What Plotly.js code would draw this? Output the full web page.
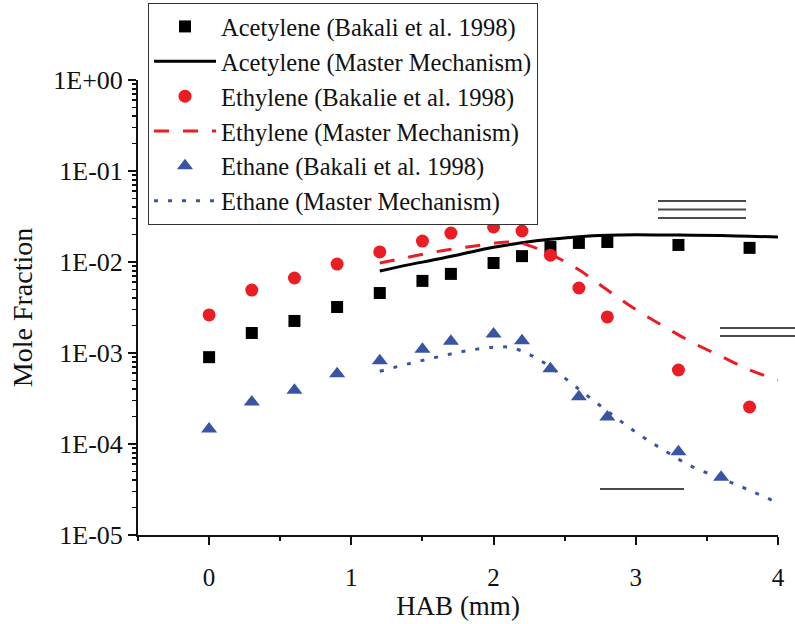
<!DOCTYPE html>
<html>
<head>
<meta charset="utf-8">
<script src="https://cdn.plot.ly/plotly-3.0.1.min.js"></script>
<style>html,body{margin:0;padding:0;background:#fff;}#chart{width:795px;height:624px;}</style>
</head>
<body>
<div id="chart"></div>
<script>
// Experimental data (Bakali et al. 1998)
const acetyleneExpX = [0, 0.3, 0.6, 0.9, 1.2, 1.5, 1.7, 2.0, 2.2, 2.4, 2.6, 2.8, 3.3, 3.8];
const acetyleneExpY = [9.0e-4, 1.66e-3, 2.25e-3, 3.2e-3, 4.56e-3, 6.2e-3, 7.4e-3, 9.75e-3, 1.16e-2, 1.46e-2, 1.62e-2, 1.66e-2, 1.54e-2, 1.43e-2];

const ethyleneExpX = [0, 0.3, 0.6, 0.9, 1.2, 1.5, 1.7, 2.0, 2.2, 2.4, 2.6, 2.8, 3.3, 3.8];
const ethyleneExpY = [2.62e-3, 4.92e-3, 6.67e-3, 9.5e-3, 1.29e-2, 1.70e-2, 2.08e-2, 2.43e-2, 2.19e-2, 1.19e-2, 5.18e-3, 2.49e-3, 6.5e-4, 2.55e-4];

const ethaneExpX = [0, 0.3, 0.6, 0.9, 1.2, 1.5, 1.7, 2.0, 2.2, 2.4, 2.6, 2.8, 3.3, 3.6];
const ethaneExpY = [1.46e-4, 2.9e-4, 3.9e-4, 5.9e-4, 8.2e-4, 1.1e-3, 1.35e-3, 1.62e-3, 1.36e-3, 6.7e-4, 3.3e-4, 1.98e-4, 8.2e-5, 4.3e-5];

// Master Mechanism model
const modelX = [1.2, 1.4, 1.6, 1.8, 2.0, 2.1, 2.2, 2.3, 2.4, 2.6, 2.8, 3.0, 3.2, 3.4, 3.6, 3.8, 4.0];
const acetyleneModelY = [7.96e-3, 9.3e-3, 1.07e-2, 1.25e-2, 1.45e-2, 1.54e-2, 1.63e-2, 1.71e-2, 1.78e-2, 1.9e-2, 1.97e-2, 1.99e-2, 1.98e-2, 1.97e-2, 1.95e-2, 1.92e-2, 1.88e-2];
const ethyleneModelY = [9.75e-3, 1.13e-2, 1.30e-2, 1.45e-2, 1.6e-2, 1.66e-2, 1.6e-2, 1.42e-2, 1.22e-2, 8.2e-3, 4.92e-3, 3.0e-3, 1.95e-3, 1.3e-3, 9.2e-4, 6.5e-4, 5.05e-4];
const ethaneModelY = [6.3e-4, 7.6e-4, 9.0e-4, 1.05e-3, 1.16e-3, 1.16e-3, 1.05e-3, 8.8e-4, 7.0e-4, 4.0e-4, 2.3e-4, 1.35e-4, 8.5e-5, 5.6e-5, 4.2e-5, 3.1e-5, 2.25e-5];

const yTickVals = [1e-5, 1e-4, 1e-3, 1e-2, 1e-1, 1];
const yTickText = ["1E-05", "1E-04", "1E-03", "1E-02", "1E-01", "1E+00"];
const xTickVals = [0, 1, 2, 3, 4];
const xMinorVals = [-0.5, 0.5, 1.5, 2.5, 3.5];

const minorY = [];
for (let e = -5; e < 0; e++) for (let m = 2; m <= 9; m++) minorY.push(m * Math.pow(10, e));

const SERIF = "Liberation Serif";
const INK = "#111";
const RED = "#ec1c24", BLUE = "#3a54a4";

const traces = [
  {x: acetyleneExpX, y: acetyleneExpY, mode: "markers", name: "Acetylene (Bakali et al. 1998)",
   marker: {symbol: "square", size: 12, color: "#000"}},
  {x: modelX, y: acetyleneModelY, mode: "lines", name: "Acetylene (Master Mechanism)",
   line: {color: "#000", width: 3, shape: "spline"}},
  {x: ethyleneExpX, y: ethyleneExpY, mode: "markers", name: "Ethylene (Bakalie et al. 1998)",
   marker: {symbol: "circle", size: 13, color: RED}},
  {x: modelX, y: ethyleneModelY, mode: "lines", name: "Ethylene (Master Mechanism)",
   line: {color: RED, width: 3, dash: "15px,14px", shape: "spline"}},
  {x: ethaneExpX, y: ethaneExpY, mode: "markers", name: "Ethane (Bakali et al. 1998)",
   marker: {symbol: "triangle-up", size: 14, color: BLUE}},
  {x: modelX, y: ethaneModelY, mode: "lines", name: "Ethane (Master Mechanism)",
   line: {color: BLUE, width: 3, dash: "4px,10px", shape: "spline"}},
  // empty carriers for the minor-tick overlay axes
  {x: [null], y: [null], xaxis: "x", yaxis: "y2", showlegend: false, hoverinfo: "skip"},
  {x: [null], y: [null], xaxis: "x2", yaxis: "y", showlegend: false, hoverinfo: "skip"}
];

const grayLine = (x0, x1, y) => ({type: "line", xref: "paper", yref: "paper",
  x0: (x0 - 138) / 640, x1: (x1 - 138) / 640, y0: (535 - y) / 455, y1: (535 - y) / 455,
  line: {color: "#4a4a4a", width: 2.2}});

const layout = {
  width: 795, height: 624,
  margin: {l: 138, r: 17, t: 80, b: 89, autoexpand: false},
  paper_bgcolor: "#fff", plot_bgcolor: "#fff",
  showlegend: true,
  font: {family: SERIF, color: INK},
  xaxis: {
    range: [-0.5, 4], tickmode: "array", tickvals: xTickVals, automargin: false,
    ticks: "outside", ticklen: 8, tickwidth: 2, tickcolor: INK, ticklabelstandoff: 11,
    showline: true, linecolor: INK, linewidth: 2, showgrid: false, zeroline: false,
    tickfont: {family: SERIF, size: 25, color: INK},
    title: {text: "HAB (mm)", font: {family: SERIF, size: 27, color: INK}, standoff: 3}
  },
  yaxis: {
    type: "log", range: [-5, 0], tickmode: "array", tickvals: yTickVals, ticktext: yTickText, automargin: false,
    ticks: "outside", ticklen: 8, tickwidth: 2, tickcolor: INK,
    showline: true, linecolor: INK, linewidth: 2, showgrid: false, zeroline: false,
    tickfont: {family: SERIF, size: 26, color: INK},
    title: {text: "Mole Fraction", font: {family: SERIF, size: 28, color: INK}, standoff: 12}
  },
  yaxis2: {overlaying: "y", anchor: "x", side: "left", type: "log", range: [-5, 0], automargin: false,
    tickmode: "array", tickvals: minorY, ticks: "outside", ticklen: 5, tickwidth: 1.5, tickcolor: INK,
    showticklabels: false, showgrid: false, zeroline: false, showline: false},
  xaxis2: {overlaying: "x", anchor: "y", side: "bottom", range: [-0.5, 4], automargin: false,
    tickmode: "array", tickvals: xMinorVals, ticks: "outside", ticklen: 5, tickwidth: 2, tickcolor: INK,
    showticklabels: false, showgrid: false, zeroline: false, showline: false},
  legend: {
    x: (148 - 138) / 640, y: (535 - 3) / 455, xanchor: "left", yanchor: "top",
    bgcolor: "#fff", bordercolor: "#333", borderwidth: 1,
    font: {family: SERIF, size: 24.5, color: INK},
    itemwidth: 62, tracegroupgap: 0
  },
  shapes: [
    grayLine(658, 746, 201), grayLine(658, 746, 209.5), grayLine(658, 746, 218),
    grayLine(720, 800, 328), grayLine(720, 800, 336),
    grayLine(600, 684, 489)
  ]
};

Plotly.newPlot("chart", traces, layout, {displayModeBar: false, staticPlot: true});
</script>
</body>
</html>
